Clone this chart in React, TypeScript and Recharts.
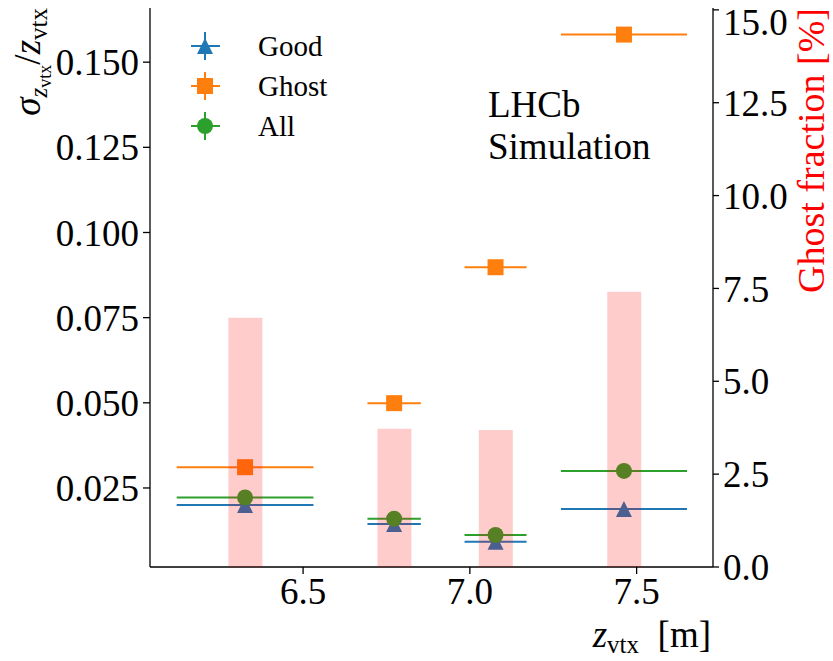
import { ComposedChart, Scatter, Bar, ErrorBar, XAxis, YAxis, Legend } from 'recharts'

// vertex-position bins (m): centre and half-width
const zCenters = [6.326, 6.773, 7.077, 7.462]
const zHalfWidths = [0.205, 0.08, 0.093, 0.189]

// relative resolution sigma_z / z per track category
const goodRes = [0.02, 0.0144, 0.0092, 0.0188]
const ghostRes = [0.0311, 0.0499, 0.0898, 0.1581]
const allRes = [0.0222, 0.016, 0.0112, 0.03]

// ghost fraction per bin (%)
const ghostFrac = [6.71, 3.72, 3.69, 7.41]

const xTicks = [6.5, 7.0, 7.5]
const leftTicks = [0.025, 0.05, 0.075, 0.1, 0.125, 0.15]
const rightTicks = [0, 2.5, 5, 7.5, 10, 12.5, 15]

const seriesNames = ['Good', 'Ghost', 'All']

const BLUE = '#1f77b4'
const ORANGE = '#ff7f0e'
const GREEN = '#2ca02c'
const FONT = 'Liberation Serif, DejaVu Serif, serif'

const W = 833
const H = 661

const rows = zCenters.map((z, i) => ({
  z,
  dz: zHalfWidths[i],
  good: goodRes[i],
  ghost: ghostRes[i],
  all: allRes[i],
  frac: ghostFrac[i],
}))

const Triangle = ({ cx, cy, fill }: any) => (
  <polygon points={`${cx},${cy - 8} ${cx - 8},${cy + 8} ${cx + 8},${cy + 8}`} fill={fill} />
)
const Square = ({ cx, cy, fill }: any) => <rect x={cx - 8} y={cy - 8} width={16} height={16} fill={fill} />
const Dot = ({ cx, cy, fill }: any) => <circle cx={cx} cy={cy} r={8} fill={fill} />

const markers = [
  { name: seriesNames[0], color: BLUE, Shape: Triangle },
  { name: seriesNames[1], color: ORANGE, Shape: Square },
  { name: seriesNames[2], color: GREEN, Shape: Dot },
]

const LegendBox = () => (
  <svg width={W} height={H} style={{ position: 'absolute', left: 0, top: 0, overflow: 'visible', pointerEvents: 'none' }}>
    {markers.map((m, i) => {
      const cy = 46 + i * 40
      return (
        <g key={m.name}>
          <line x1={191} x2={220} y1={cy} y2={cy} stroke={m.color} strokeWidth={2} />
          <line x1={205} x2={205} y1={cy - 14} y2={cy + 14} stroke={m.color} strokeWidth={2} />
          <m.Shape cx={205} cy={cy} fill={m.color} />
          <text x={258} y={cy + 10} fontSize={29} fontFamily={FONT} fill="#000">
            {m.name}
          </text>
        </g>
      )
    })}
    <text x={488} y={117} fontSize={37} fontFamily={FONT} fill="#000">LHCb</text>
    <text x={488} y={159} fontSize={37} fontFamily={FONT} fill="#000">Simulation</text>
  </svg>
)

const LeftLabel = () => (
  <text transform="translate(40,8) rotate(-90)" textAnchor="end" fontFamily={FONT} fontSize={37} fill="#000">
    <tspan fontStyle="italic">σ</tspan>
    <tspan fontSize={25} fontStyle="italic" dy={7}>z</tspan>
    <tspan fontSize={18} dy={4}>vtx</tspan>
    <tspan fontSize={37} dy={-11}>/</tspan>
    <tspan fontStyle="italic">z</tspan>
    <tspan fontSize={25} dy={7}>vtx</tspan>
  </text>
)

const RightLabel = () => (
  <text transform="translate(824,8) rotate(-90)" textAnchor="end" fontFamily={FONT} fontSize={38} fill="#ff0000">
    Ghost fraction [%]
  </text>
)

const BottomLabel = () => (
  <text x={711} y={647} textAnchor="end" fontFamily={FONT} fontSize={37} fill="#000">
    <tspan fontStyle="italic">z</tspan>
    <tspan fontSize={25} dy={6}>vtx</tspan>
    <tspan dy={-6}>{'\u2002[m]'}</tspan>
  </text>
)

const tickStyle = { fill: '#000', fontSize: 37, fontFamily: FONT }
const axisLine = { stroke: '#000', strokeWidth: 1.3 }

export default function App() {
  return (
    <div style={{ position: 'absolute', left: 0, top: 0, width: W, height: H, background: '#fff', fontFamily: FONT }}>
      <ComposedChart width={W} height={H} data={rows} margin={{ top: 8, right: 20, bottom: 44, left: 30 }}>
        <XAxis
          xAxisId="bottom"
          dataKey="z"
          type="number"
          domain={[6.041, 7.729]}
          allowDataOverflow
          ticks={xTicks}
          tickFormatter={(v: number) => v.toFixed(1)}
          tick={tickStyle}
          tickSize={7}
          tickMargin={4}
          tickLine={axisLine}
          axisLine={axisLine}
          height={50}
          label={<BottomLabel />}
        />
        <XAxis
          xAxisId="top"
          orientation="top"
          type="number"
          domain={[6.041, 7.729]}
          allowDataOverflow
          tick={false}
          tickLine={false}
          axisLine={axisLine}
          height={0}
        />
        <YAxis
          yAxisId="left"
          type="number"
          domain={[0.0018, 0.1659]}
          allowDataOverflow
          ticks={leftTicks}
          tickFormatter={(v: number) => v.toFixed(3)}
          tick={tickStyle}
          tickSize={7}
          tickMargin={4}
          tickLine={axisLine}
          axisLine={axisLine}
          width={120}
          label={<LeftLabel />}
        />
        <YAxis
          yAxisId="right"
          orientation="right"
          type="number"
          domain={[0, 15.05]}
          allowDataOverflow
          ticks={rightTicks}
          tickFormatter={(v: number) => v.toFixed(1)}
          tick={tickStyle}
          tickSize={6}
          tickMargin={4}
          tickLine={axisLine}
          axisLine={axisLine}
          width={100}
          label={<RightLabel />}
        />
        <Scatter xAxisId="bottom" yAxisId="left" name="Good" dataKey="good" fill={BLUE} shape={<Triangle />} isAnimationActive={false}>
          <ErrorBar dataKey="dz" direction="x" width={0} stroke={BLUE} strokeWidth={2} />
        </Scatter>
        <Scatter xAxisId="bottom" yAxisId="left" name="Ghost" dataKey="ghost" fill={ORANGE} shape={<Square />} isAnimationActive={false}>
          <ErrorBar dataKey="dz" direction="x" width={0} stroke={ORANGE} strokeWidth={2} />
        </Scatter>
        <Scatter xAxisId="bottom" yAxisId="left" name="All" dataKey="all" fill={GREEN} shape={<Dot />} isAnimationActive={false}>
          <ErrorBar dataKey="dz" direction="x" width={0} stroke={GREEN} strokeWidth={2} />
        </Scatter>
        <Bar
          xAxisId="bottom"
          yAxisId="right"
          dataKey="frac"
          fill="#ff0000"
          fillOpacity={0.2}
          barSize={34}
          legendType="none"
          zIndex={650}
          isAnimationActive={false}
        />
        <Legend
          layout="vertical"
          align="center"
          verticalAlign="middle"
          wrapperStyle={{ left: 0, top: 0, width: W, height: H, pointerEvents: 'none' }}
          content={<LegendBox />}
        />
      </ComposedChart>
    </div>
  )
}
